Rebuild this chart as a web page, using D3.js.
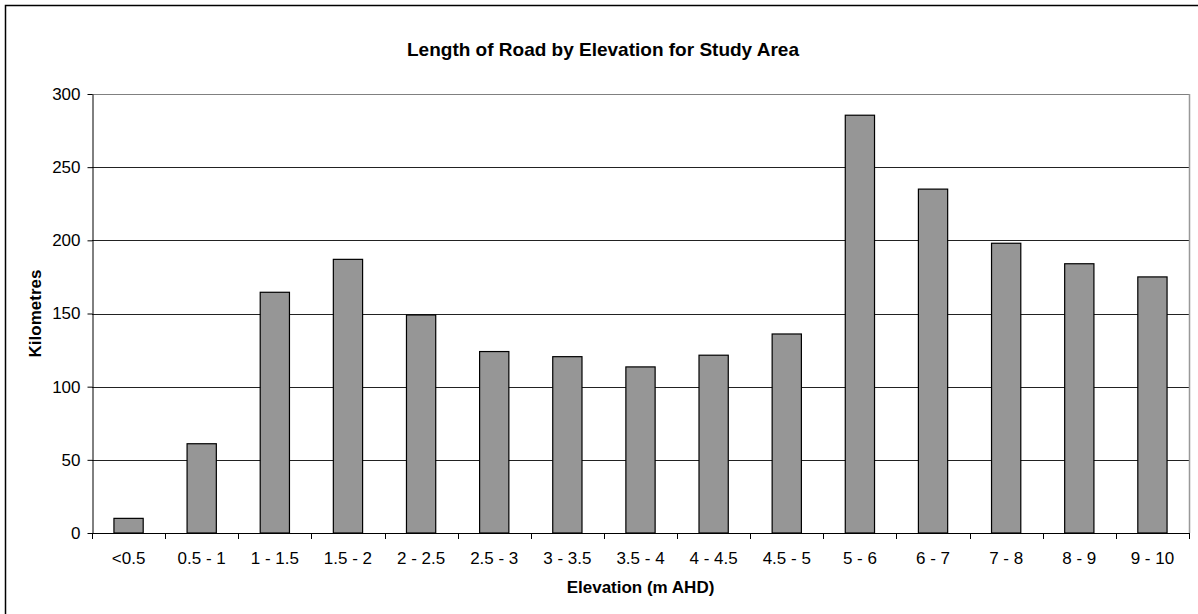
<!DOCTYPE html>
<html>
<head>
<meta charset="utf-8">
<script src="https://cdn.jsdelivr.net/npm/d3@7"></script>
<style>
	body { margin: 0; background: #fff; }
	svg text { font-family: "Liberation Sans", Arial, sans-serif; fill: #000; }
</style>
</head>
<body>
<svg id="chart" width="1198" height="614"></svg>
<script>
// data
var categories = ["<0.5", "0.5 - 1", "1 - 1.5", "1.5 - 2", "2 - 2.5", "2.5 - 3", "3 - 3.5",
	"3.5 - 4", "4 - 4.5", "4.5 - 5", "5 - 6", "6 - 7", "7 - 8", "8 - 9", "9 - 10"];
var kilometres = [10, 61, 164.5, 187, 149, 124, 120.5, 113.5, 121.5, 136, 285.5, 235, 198, 184, 175];
var yTicks = [0, 50, 100, 150, 200, 250, 300];

var svg = d3.select("#chart");
var plot = { left: 92, right: 1189, top: 94, bottom: 533 };

// outer chart frame (right/bottom edges fall outside the picture)
svg.append("rect")
	.attr("x", 5.5).attr("y", 5.5)
	.attr("width", 1200).attr("height", 620)
	.attr("fill", "#fff").attr("stroke", "#000").attr("stroke-width", 1.5);

var x = d3.scaleBand()
	.domain(categories)
	.range([plot.left, plot.right])
	.paddingInner(0.6).paddingOuter(0.3);
// band step used for tick placement at category boundaries
var step = (plot.right - plot.left) / categories.length;

var y = d3.scaleLinear().domain([0, 300]).range([plot.bottom, plot.top]);

// gridlines
svg.append("g").selectAll("line")
	.data(yTicks.filter(function(d) { return d > 0; }))
	.enter().append("line")
	.attr("x1", plot.left).attr("x2", plot.right)
	.attr("y1", function(d) { return Math.round(y(d)) + 0.5; })
	.attr("y2", function(d) { return Math.round(y(d)) + 0.5; })
	.attr("stroke", function(d) { return d === 300 ? "#808080" : "#222"; })
	.attr("stroke-width", 1);

// plot area right border
svg.append("line")
	.attr("x1", plot.right + 0.5).attr("x2", plot.right + 0.5)
	.attr("y1", plot.top).attr("y2", plot.bottom)
	.attr("stroke", "#999").attr("stroke-width", 1.5);

// bars
svg.append("g").selectAll("rect")
	.data(kilometres)
	.enter().append("rect")
	.attr("x", function(d, i) { return x(categories[i]); })
	.attr("width", x.bandwidth())
	.attr("y", function(d) { return y(d); })
	.attr("height", function(d) { return y(0) - y(d); })
	.attr("fill", "#969696")
	.attr("stroke", "#000").attr("stroke-width", 1.2);

// y axis
var yAxis = d3.axisLeft(y).tickValues(yTicks).tickSize(5).tickPadding(7).tickSizeOuter(0);
var gy = svg.append("g").attr("transform", "translate(" + (plot.left + 0.5) + ",0)").call(yAxis);
gy.select(".domain").attr("stroke", "#000");
gy.selectAll(".tick line").attr("stroke", "#000");
gy.selectAll("text").attr("font-size", 17).attr("font-family", "Liberation Sans, Arial, sans-serif");

// x axis: line plus ticks at category boundaries
var gx = svg.append("g");
gx.append("line")
	.attr("x1", plot.left).attr("x2", plot.right + 1)
	.attr("y1", plot.bottom + 0.5).attr("y2", plot.bottom + 0.5)
	.attr("stroke", "#000");
gx.selectAll("line.tk")
	.data(d3.range(categories.length + 1))
	.enter().append("line").attr("class", "tk")
	.attr("x1", function(i) { return Math.round(plot.left + i * step) + 0.5; })
	.attr("x2", function(i) { return Math.round(plot.left + i * step) + 0.5; })
	.attr("y1", plot.bottom).attr("y2", plot.bottom + 6)
	.attr("stroke", "#000");
gx.selectAll("text")
	.data(categories)
	.enter().append("text")
	.attr("x", function(d) { return x(d) + x.bandwidth() / 2; })
	.attr("y", 558)
	.attr("dy", "0.35em")
	.attr("text-anchor", "middle")
	.attr("font-size", 17)
	.text(function(d) { return d; });

// titles
svg.append("text")
	.attr("x", 603).attr("y", 49).attr("dy", "0.35em")
	.attr("text-anchor", "middle")
	.attr("font-size", 19).attr("font-weight", "bold")
	.text("Length of Road by Elevation for Study Area");

svg.append("text")
	.attr("x", (plot.left + plot.right) / 2).attr("y", 587).attr("dy", "0.35em")
	.attr("text-anchor", "middle")
	.attr("font-size", 17).attr("font-weight", "bold")
	.text("Elevation (m AHD)");

svg.append("text")
	.attr("transform", "translate(35," + ((plot.top + plot.bottom) / 2) + ") rotate(-90)")
	.attr("dy", "0.35em")
	.attr("text-anchor", "middle")
	.attr("font-size", 17).attr("font-weight", "bold")
	.text("Kilometres");
</script>
</body>
</html>
